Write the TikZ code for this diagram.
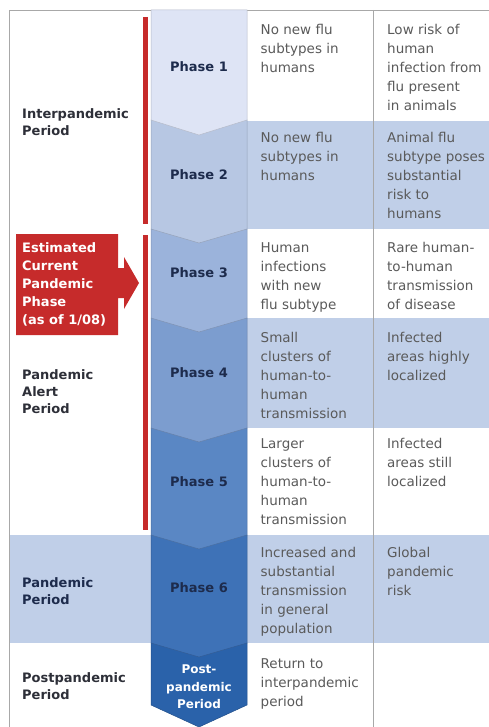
\documentclass[tikz,border=0pt]{standalone}
\usepackage{fontspec}
\setmainfont{DejaVu Sans}
\definecolor{phaseone}{HTML}{DEE4F5}
\definecolor{phasetwo}{HTML}{B7C7E3}
\definecolor{phasethree}{HTML}{9BB3DB}
\definecolor{phasefour}{HTML}{7C9DCF}
\definecolor{phasefive}{HTML}{5A87C4}
\definecolor{phasesix}{HTML}{3E72B7}
\definecolor{postblue}{HTML}{2A62AA}
\definecolor{rowblue}{HTML}{C0CFE8}
\definecolor{alertred}{HTML}{C62B2B}
\definecolor{rulegray}{HTML}{A8A8A8}
\definecolor{celltext}{HTML}{5A5A5A}
\definecolor{phasetext}{HTML}{1D2B4C}
\definecolor{periodtext}{HTML}{2D2F38}
\begin{document}
\begin{tikzpicture}[x=1pt, y=-1pt,
    cell/.style={anchor=north west, inner sep=0pt, align=left, text=celltext,
      font=\fontsize{13.5}{19}\selectfont},
    period/.style={anchor=north west, inner sep=0pt, align=left, text=periodtext,
      font=\fontsize{13}{17}\selectfont\bfseries},
    phase/.style={inner sep=0pt, text=phasetext, font=\fontsize{13}{17}\selectfont\bfseries},
    chev/.style={fill=#1, draw=#1!82!black, line width=0.5pt},
    rowfill/.style={fill=rowblue},
    rule/.style={draw=rulegray, line width=0.8pt},
    redbar/.style={draw=alertred, line width=5pt}
  ]
  \useasboundingbox (0,0) rectangle (489,727);

  % shaded rows
  \fill[rowfill] (247,121) rectangle (489,229);
  \fill[rowfill] (247,318) rectangle (489,428);
  \fill[rowfill] (247,535) rectangle (489,643);
  \fill[rowfill] (9,535) rectangle (151,643);

  % frame and column rule
  \draw[rule] (9,727) -- (9,10) -- (489,10);
  \draw[rule] (373,10) -- (373,727);

  % phase chevrons, lowest first
  \draw[chev=postblue] (151,643) -- (247,643) -- (247,705) -- (199,727) -- (151,705) -- cycle;
  \draw[chev=phasesix] (151,535) -- (247,535) -- (247,643) -- (199,657) -- (151,643) -- cycle;
  \draw[chev=phasefive] (151,428) -- (247,428) -- (247,535) -- (199,549) -- (151,535) -- cycle;
  \draw[chev=phasefour] (151,318) -- (247,318) -- (247,428) -- (199,442) -- (151,428) -- cycle;
  \draw[chev=phasethree] (151,229) -- (247,229) -- (247,318) -- (199,332) -- (151,318) -- cycle;
  \draw[chev=phasetwo] (151,120) -- (247,120) -- (247,229) -- (199,243) -- (151,229) -- cycle;
  \draw[chev=phaseone] (151,10) -- (247,10) -- (247,120) -- (199,135) -- (151,120) -- cycle;

  \node[phase] (ph1) at (199,67) {Phase 1};
  \node[phase] (ph2) at (199,175) {Phase 2};
  \node[phase] (ph3) at (199,273) {Phase 3};
  \node[phase] (ph4) at (199,373) {Phase 4};
  \node[phase] (ph5) at (199,482) {Phase 5};
  \node[phase] (ph6) at (199,588) {Phase 6};
  \node[phase, anchor=north, align=center, text=white,
    font=\fontsize{12}{17.5}\selectfont\bfseries] (post) at (199,665) {Post-\\pandemic\\Period};

  % red bars
  \draw[redbar] (145.5,17) -- (145.5,224);
  \draw[redbar] (145.5,235) -- (145.5,530);

  % current phase callout
  \fill[alertred] (16,234) -- (118,234) -- (118,268) -- (124,268) -- (124,257)
    -- (139,283) -- (124,309) -- (124,298) -- (118,298) -- (118,335) -- (16,335) -- cycle;
  \node[period, text=white, font=\fontsize{13}{18}\selectfont\bfseries] (current) at (22,242.5)
    {Estimated\\Current\\Pandemic\\Phase\\(as of 1/08)};

  % periods
  \node[period] (inter) at (22,108.5) {Interpandemic\\Period};
  \node[period] (alert) at (22,369) {Pandemic\\Alert\\Period};
  \node[period, text=phasetext] (pandemic) at (22,577) {Pandemic\\Period};
  \node[period] (postper) at (22,672) {Postpandemic\\Period};

  % descriptions
  \node[cell] (d1) at (260.5,24) {No new flu\\subtypes in\\humans};
  \node[cell] (r1) at (387,24) {Low risk of\\human\\infection from\\flu present\\in animals};
  \node[cell] (d2) at (260.5,132) {No new flu\\subtypes in\\humans};
  \node[cell] (r2) at (387,132) {Animal flu\\subtype poses\\substantial\\risk to\\humans};
  \node[cell] (d3) at (260.5,242) {Human\\infections\\with new\\flu subtype};
  \node[cell] (r3) at (387,242) {Rare human-\\to-human\\transmission\\of disease};
  \node[cell] (d4) at (260.5,332) {Small\\clusters of\\human-to-\\human\\transmission};
  \node[cell] (r4) at (387,332) {Infected\\areas highly\\localized};
  \node[cell] (d5) at (260.5,438) {Larger\\clusters of\\human-to-\\human\\transmission};
  \node[cell] (r5) at (387,438) {Infected\\areas still\\localized};
  \node[cell] (d6) at (260.5,547) {Increased and\\substantial\\transmission\\in general\\population};
  \node[cell] (r6) at (387,547) {Global\\pandemic\\risk};
  \node[cell] (d7) at (260.5,658) {Return to\\interpandemic\\period};
\end{tikzpicture}
\end{document}
